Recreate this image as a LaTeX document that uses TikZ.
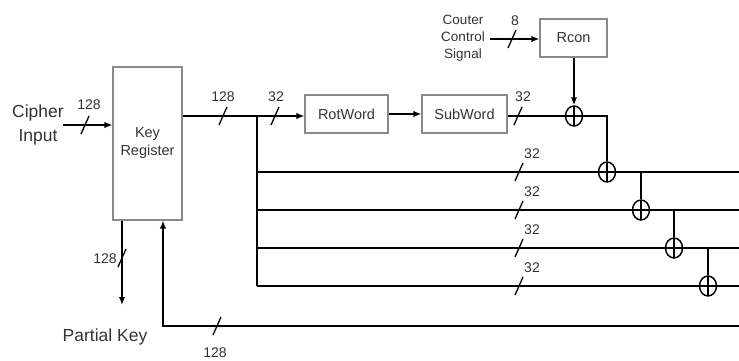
\documentclass[tikz,border=0pt]{standalone}
\usepackage{fontspec}
\setmainfont{Liberation Sans}
\usetikzlibrary{arrows.meta,shapes.geometric}
\definecolor{boxgray}{HTML}{8A8A8A}
\definecolor{txtgray}{HTML}{333333}
\tikzset{
  blk/.style={draw=boxgray,line width=1.1pt,rectangle,inner sep=0pt,text=txtgray,font=\fontsize{14.5}{18}\selectfont,align=center},
  wire/.style={line width=1.5pt,black},
  arr/.style={wire,-{Latex[length=8pt,width=6.5pt]}},
  xor/.style={draw,line width=1.5pt,ellipse,minimum width=17pt,minimum height=20pt,inner sep=0pt,fill=white,
    path picture={\draw[line width=1.5pt] (path picture bounding box.north) -- (path picture bounding box.south)
      (path picture bounding box.west) -- (path picture bounding box.east);}},
  lbl/.style={text=txtgray,font=\fontsize{14}{17}\selectfont,inner sep=0pt},
  big/.style={text=txtgray,font=\fontsize{17.5}{24}\selectfont,inner sep=0pt,align=center},
  busslash/.pic={\draw[line width=1.3pt] (-4,9) -- (4,-9);}
}
\begin{document}
\begin{tikzpicture}[x=1pt,y=-1pt]
\useasboundingbox (0,0) rectangle (739,361);
% boxes
\node[blk,minimum width=69pt,minimum height=153pt] (kr) at (147.5,143.5) {Key\\Register};
\node[blk,minimum width=83pt,minimum height=38pt] (rot) at (346.5,114) {RotWord};
\node[blk,minimum width=85pt,minimum height=38pt] (sub) at (464.5,114) {SubWord};
\node[blk,minimum width=67pt,minimum height=38pt] (rcon) at (573.5,38) {Rcon};
% texts
\node[big] (ci) at (38,125) {Cipher\\Input};
\node[big] (pk) at (105,337) {Partial Key};
\node[lbl,align=center,font=\fontsize{13.5}{17}\selectfont] (ct) at (463,38) {Couter\\Control\\Signal};
% coordinates
\coordinate (cin) at (63,125);
\coordinate (j0) at (257,116);
\coordinate (j1) at (257,172);
\coordinate (j2) at (257,210);
\coordinate (j3) at (257,248);
\coordinate (j4) at (257,286);
\coordinate (e1) at (739,172);
\coordinate (e2) at (739,210);
\coordinate (e3) at (739,248);
\coordinate (e4) at (739,286);
\coordinate (fbr) at (739,326);
\coordinate (fb) at (163,326);
\coordinate (pkc) at (122,305);
\coordinate (cs) at (490,39);
\coordinate (c1) at (607,116);
% main wires
\draw[arr] (cin) -- (kr.west |- cin);
\draw[arr] (kr.east |- j0) -- (rot.west |- j0);
\draw[wire] (j0) -- (j4);
\draw[arr] (rot) -- (sub);
\draw[wire] (j1) -- (e1);
\draw[wire] (j2) -- (e2);
\draw[wire] (j3) -- (e3);
\draw[wire] (j4) -- (e4);
\draw[arr] (fbr) -- (fb) -- (fb |- kr.south);
\draw[arr] (kr.south -| pkc) -- (pkc);
\draw[arr] (cs) -- (rcon.west |- cs);
% xors
\node[xor] (x1) at (574,116) {};
\node[xor] (x2) at (607,172) {};
\node[xor] (x3) at (641,210) {};
\node[xor] (x4) at (674,248) {};
\node[xor] (x5) at (708,286) {};
\draw[wire] (sub.east |- x1) -- (x1.west);
\draw[wire] (x1.east) -- (c1) -- (x2.north);
\draw[arr] (rcon.south -| x1) -- (x1.north);
\draw[wire] (x3.north |- x2) -- (x3.north);
\draw[wire] (x4.north |- x3) -- (x4.north);
\draw[wire] (x5.north |- x4) -- (x5.north);
% bus slashes and widths
\pic at (85,125) {busslash};   \node[lbl] (w1) at (89,105) {128};
\pic at (223,116) {busslash};  \node[lbl] (w2) at (223,97) {128};
\pic at (275,116) {busslash};  \node[lbl] (w3) at (276,97) {32};
\pic at (518,116) {busslash};  \node[lbl] (w4) at (523,97) {32};
\pic at (512,39) {busslash};   \node[lbl] (w5) at (515,21) {8};
\pic at (519,172) {busslash};  \node[lbl] (w6) at (532,154) {32};
\pic at (519,210) {busslash};  \node[lbl] (w7) at (532,192) {32};
\pic at (519,248) {busslash};  \node[lbl] (w8) at (532,230) {32};
\pic at (519,286) {busslash};  \node[lbl] (w9) at (532,268) {32};
\pic at (122,258) {busslash};  \node[lbl] (w10) at (105,259) {128};
\pic at (217,326) {busslash};  \node[lbl] (w11) at (215,353) {128};
\end{tikzpicture}
\end{document}
